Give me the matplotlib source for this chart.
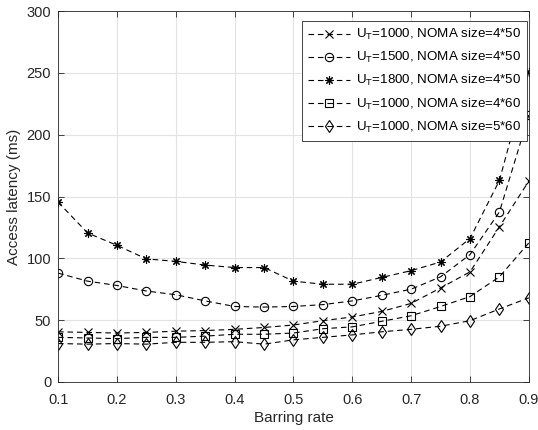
import numpy as np
import matplotlib
matplotlib.use("Agg")
import matplotlib.pyplot as plt

plt.rcParams["font.family"] = ["Liberation Sans", "DejaVu Sans"]

# Barring rate samples
barring = [0.1, 0.15, 0.2, 0.25, 0.3, 0.35, 0.4, 0.45, 0.5,
           0.55, 0.6, 0.65, 0.7, 0.75, 0.8, 0.85, 0.9]

# Access latency (ms) per configuration
lat_1000_4x50 = [40.5, 40, 39.5, 40, 41, 41.5, 42.5, 44, 46,
                 49.5, 52.5, 57, 63.5, 76, 89, 125.5, 162.5]
lat_1500_4x50 = [88, 81.5, 78, 73.5, 70.5, 65.5, 61, 60.5, 61,
                 62.5, 65.5, 70, 75, 85, 103, 137.5, 216]
lat_1800_4x50 = [145.5, 120.5, 110.5, 99.5, 97.5, 94.5, 92.5, 92.5, 81.5,
                 79, 79, 84.5, 90, 97, 116, 163, 251]
lat_1000_4x60 = [36, 35.5, 35, 36, 36, 37, 38.5, 38.5, 39.5,
                 43, 44.5, 49, 53.5, 61, 69, 85, 112.5]
lat_1000_5x60 = [31, 30.5, 31, 30.5, 32, 32, 32.5, 30.5, 34,
                 36, 38, 40.5, 42.5, 45, 49.5, 59, 68]

labels = [
    r"U$_\mathregular{T}$=1000, NOMA size=4*50",
    r"U$_\mathregular{T}$=1500, NOMA size=4*50",
    r"U$_\mathregular{T}$=1800, NOMA size=4*50",
    r"U$_\mathregular{T}$=1000, NOMA size=4*60",
    r"U$_\mathregular{T}$=1000, NOMA size=5*60",
]

fig = plt.figure(figsize=(5.38, 4.3), dpi=100)
ax = fig.add_axes([0.108, 0.112, 0.875, 0.862])

style = dict(color="black", linestyle=(0, (5, 3.5)), linewidth=0.8,
             markersize=6, markeredgewidth=0.8, markerfacecolor="none")
ax.plot(barring, lat_1000_4x50, marker="x", label=labels[0], **style)
ax.plot(barring, lat_1500_4x50, marker="o", label=labels[1], **style)
ax.plot(barring, lat_1800_4x50, marker=(8, 2, 0), label=labels[2], **style)
ax.plot(barring, lat_1000_4x60, marker="s", label=labels[3], **style)
ax.plot(barring, lat_1000_5x60, marker="d", label=labels[4], **style)

ax.set_xlim(0.1, 0.9)
ax.set_ylim(0, 300)
ax.set_xticks(np.arange(0.1, 0.91, 0.1))
ax.set_xticklabels(["0.1", "0.2", "0.3", "0.4", "0.5", "0.6", "0.7", "0.8", "0.9"])
ax.set_yticks(range(0, 301, 50))

ax.grid(True, color="#e3e3e3", linewidth=0.8)
ax.set_axisbelow(True)
for s in ax.spines.values():
    s.set_color("#262626")
    s.set_linewidth(0.6)
ax.tick_params(direction="in", top=True, right=True, length=4,
               width=0.6, colors="#262626", labelsize=10.5)
ax.tick_params(axis="x", pad=8)
ax.tick_params(axis="y", pad=5)

ax.set_xlabel("Barring rate", fontsize=11, color="#262626", labelpad=3)
ax.set_ylabel("Access latency (ms)", fontsize=11, color="#262626")

leg = ax.legend(loc="upper right", bbox_to_anchor=(0.996, 0.973),
                fontsize=9.6, handlelength=3.2, borderaxespad=0,
                fancybox=False, edgecolor="#262626", framealpha=1,
                labelspacing=0.6, handletextpad=0.4, borderpad=0.45)
leg.get_frame().set_linewidth(0.6)

fig.savefig("out.png", dpi=100)
